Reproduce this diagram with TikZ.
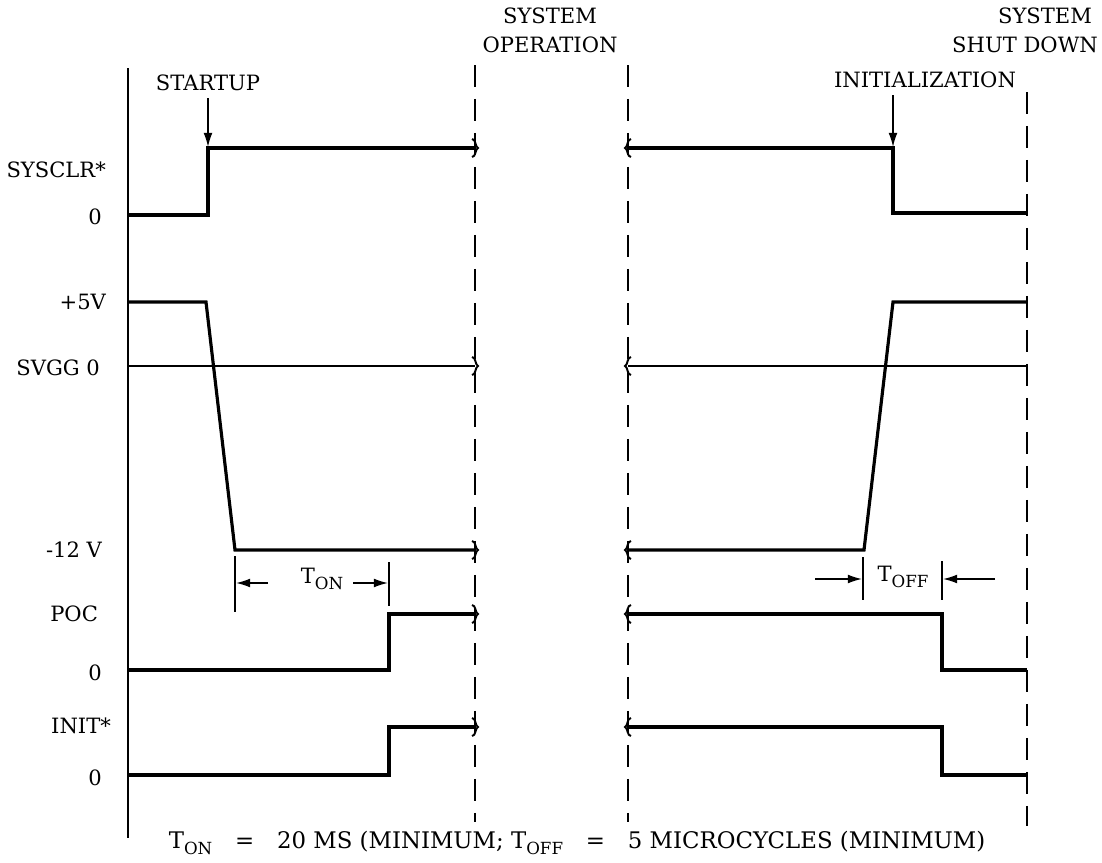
\documentclass[tikz,border=0pt]{standalone}
\usepackage{fontspec}
\setmainfont{DejaVu Serif}
\usetikzlibrary{arrows.meta}
\newcommand{\cutmark}[3]{\draw[line width=1.1pt] (#1-3*#3,#2-9) .. controls (#1+1*#3,#2-9) and (#1,#2-1) .. (#1+3*#3,#2) .. controls (#1,#2+1) and (#1+1*#3,#2+9) .. (#1-3*#3,#2+9);}
\newcommand{\lowsub}[1]{\raisebox{-0.5ex}{\fontsize{9.5}{10}\selectfont #1}}
\begin{document}
\begin{tikzpicture}[x=0.02cm,y=-0.02cm,
  sig/.style={line width=1.8pt},
  sepline/.style={line width=0.8pt,dash pattern=on 0.44cm off 0.24cm},
  lbl/.style={font=\fontsize{12}{14}\selectfont,inner sep=1pt},
  tick/.style={line width=0.8pt},
  evt/.style={-{Latex[length=8pt,width=5pt]},line width=0.8pt}]
\useasboundingbox (0,0) rectangle (1102,862);
\pgfmathsetmacro{\xa}{128}
\pgfmathsetmacro{\xb}{475}
\pgfmathsetmacro{\xc}{628}
\pgfmathsetmacro{\xd}{1027}
% frame lines
\draw[line width=1.4pt](\xa,68)--(\xa,838);
\draw[sepline](\xb,65)--(\xb,822);
\draw[sepline](\xc,65)--(\xc,822);
\draw[sepline](\xd,92)--(\xd,826);
% headings
\node[lbl](sysA) at (550,16){SYSTEM};
\node[lbl](oper) at (550,45){OPERATION};
\node[lbl,anchor=east](sysB) at (1094,16){SYSTEM};
\node[lbl,anchor=east](shut) at (1100,45){SHUT DOWN};
\node[lbl](startup) at (208,83){STARTUP};
\node[lbl](initz) at (925,80){INITIALIZATION};
% signal names
\node[lbl,anchor=east](sysclr) at (108,170){SYSCLR*};
\node[lbl,anchor=east](zA) at (104,217){0};
\node[lbl,anchor=east](pfive) at (108,302){+5V};
\node[lbl,anchor=east](svgg) at (102,368){SVGG 0};
\node[lbl,anchor=east](mtwelve) at (104,550){-12 V};
\node[lbl,anchor=east](poc) at (100,614){POC};
\node[lbl,anchor=east](zB) at (104,673){0};
\node[lbl,anchor=east](init) at (113,726){INIT*};
\node[lbl,anchor=east](zC) at (104,778){0};
% waveforms
\draw[sig](\xa,215)--(208,215)--(208,148)--(\xb,148);
\draw[sig](\xc,148)--(893,148)--(893,213)--(\xd,213);
\draw[sig](\xa,302)--(206,302)--(235,550)--(\xb,550);
\draw[sig](\xc,550)--(864,550)--(893,302)--(\xd,302);
\draw[line width=0.7pt](\xa,366)--(\xb,366);
\draw[line width=0.7pt](\xc,366)--(\xd,366);
\draw[sig](\xa,670)--(389,670)--(389,614)--(\xb,614);
\draw[sig](\xc,614)--(942,614)--(942,670)--(\xd,670);
\draw[sig](\xa,775)--(389,775)--(389,727)--(\xb,727);
\draw[sig](\xc,727)--(942,727)--(942,775)--(\xd,775);
\foreach \yy in {148,366,550,614,727}{
  \cutmark{\xb}{\yy}{1}
  \cutmark{\xc}{\yy}{-1}
}
% event arrows
\coordinate(sysup) at (208,147);
\coordinate(sysdn) at (893,147);
\draw[evt,shorten <=3pt](startup)--(sysup);
\draw[evt,shorten <=3pt](initz.south-|sysdn)--(sysdn);
% T on
\draw[tick](235,556)--(235,612);
\draw[tick](389,562)--(389,606);
\coordinate(tonA) at (236,583);
\coordinate(tonB) at (388,583);
\coordinate(tonC) at (268,583);
\coordinate(tonD) at (353,583);
\node[lbl](ton) at (322,579){T\lowsub{ON}};
\draw[evt](tonC)--(tonA);
\draw[evt](tonD)--(tonB);
% T off
\draw[tick](863,557)--(863,600);
\draw[tick](942,561)--(942,600);
\coordinate(toffA) at (862,579);
\coordinate(toffB) at (943,579);
\coordinate(toffC) at (815,579);
\coordinate(toffD) at (995,579);
\node[lbl](toff) at (903,577){T\lowsub{OFF}};
\draw[evt](toffC)--(toffA);
\draw[evt](toffD)--(toffB);
% note
\node[lbl,font=\fontsize{13}{15}\selectfont](note) at (577,843){T\lowsub{ON}\quad=\quad 20 MS (MINIMUM; T\lowsub{OFF}\quad=\quad 5 MICROCYCLES (MINIMUM)};
\end{tikzpicture}
\end{document}
